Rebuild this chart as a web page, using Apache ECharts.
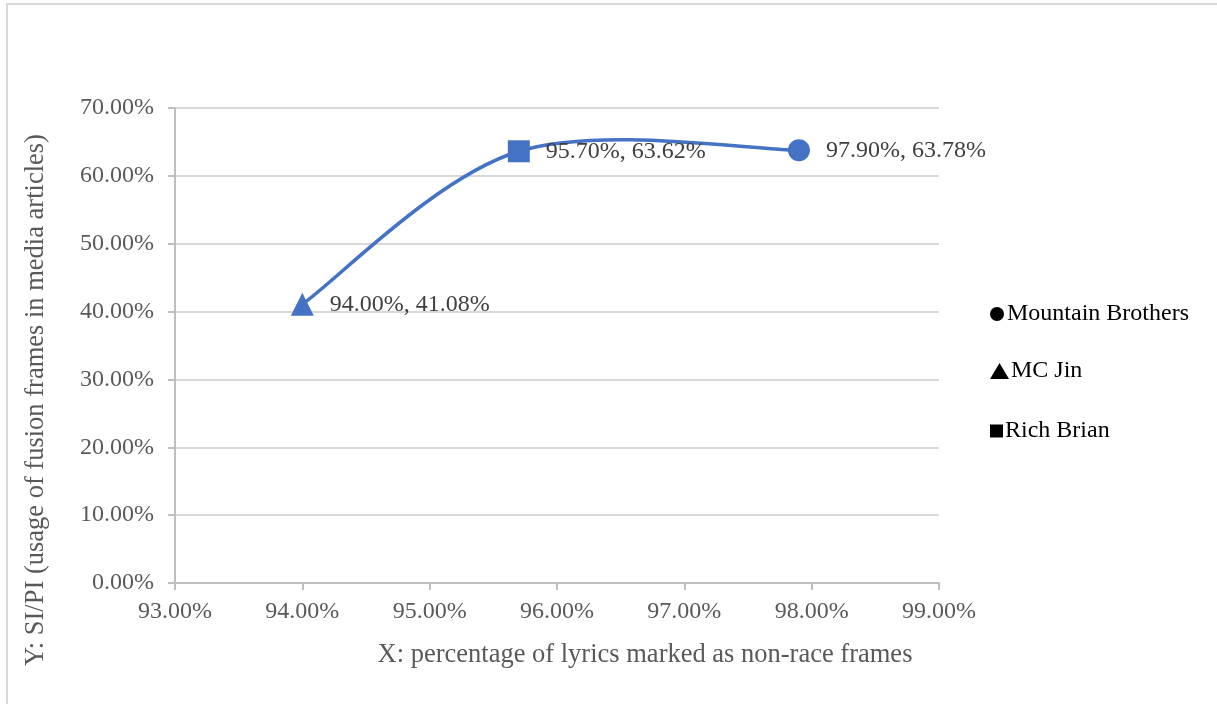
<!DOCTYPE html>
<html>
<head>
<meta charset="utf-8">
<script src="https://cdn.jsdelivr.net/npm/echarts@6/dist/echarts.min.js"></script>
<style>
  html, body { margin: 0; padding: 0; background: #fff; }
  #chart { width: 1217px; height: 704px; }
</style>
</head>
<body>
<div id="chart"></div>
<script>
// data (percent)
var artists = ['MC Jin', 'Rich Brian', 'Mountain Brothers'];
var xValues = [94.00, 95.70, 97.90];
var yValues = [41.08, 63.62, 63.78];
var markers = ['triangle', 'rect', 'circle'];

var fontFamily = '"Liberation Serif", "Times New Roman", serif';
var blue = '#4472C4';

var chart = echarts.init(document.getElementById('chart'));

var points = xValues.map(function (x, i) {
  return {
    name: artists[i],
    value: [x, yValues[i]],
    symbol: markers[i],
    symbolSize: markers[i] === 'triangle' ? 23 : 22
  };
});

// Excel-style smoothed line (catmull-rom through the data points)
function renderSmooth(params, api) {
  if (params.dataIndex !== 0) return null;
  var pts = xValues.map(function (x, i) { return api.coord([x, yValues[i]]); });
  var d = 'M' + pts[0][0] + ' ' + pts[0][1];
  for (var i = 0; i < pts.length - 1; i++) {
    var p0 = pts[i - 1] || pts[i];
    var p1 = pts[i];
    var p2 = pts[i + 1];
    var p3 = pts[i + 2] || pts[i + 1];
    var c1x = p1[0] + (p2[0] - p0[0]) / 6, c1y = p1[1] + (p2[1] - p0[1]) / 6;
    var c2x = p2[0] - (p3[0] - p1[0]) / 6, c2y = p2[1] - (p3[1] - p1[1]) / 6;
    d += ' C' + c1x + ' ' + c1y + ' ' + c2x + ' ' + c2y + ' ' + p2[0] + ' ' + p2[1];
  }
  return {
    type: 'path',
    shape: { pathData: d },
    style: { fill: 'none', stroke: blue, lineWidth: 3.5 }
  };
}

// one legend block per entry so each icon keeps its own size
function legendBlock(name, icon, top, w, h, pad) {
  return {
    orient: 'vertical',
    left: 990,
    top: top,
    padding: 0,
    itemWidth: w,
    itemHeight: h,
    selectedMode: false,
    data: [{ name: name, icon: icon }],
    textStyle: { fontFamily: fontFamily, fontSize: 24, color: '#000', padding: [0, 0, 0, pad] }
  };
}

function legendSeries(name, symbol) {
  return { name: name, type: 'scatter', data: [], symbol: symbol, itemStyle: { color: '#000', opacity: 1 } };
}

var option = {
  backgroundColor: '#fff',
  animation: false,
  grid: { left: 175, right: 278, top: 108, bottom: 121 },
  graphic: [
    {
      type: 'rect',
      shape: { x: 7, y: 4, width: 1300, height: 800 },
      style: { fill: 'none', stroke: '#d9d9d9', lineWidth: 2 },
      silent: true
    },
    {
      type: 'text',
      x: 36, y: 400,
      rotation: Math.PI / 2,
      style: {
        text: 'Y: SI/PI (usage of fusion frames in media articles)',
        font: '26.5px ' + fontFamily,
        fill: '#595959',
        align: 'center',
        verticalAlign: 'middle'
      }
    },
    {
      type: 'text',
      x: 645, y: 655,
      style: {
        text: 'X: percentage of lyrics marked as non-race frames',
        font: '26.5px ' + fontFamily,
        fill: '#595959',
        align: 'center',
        verticalAlign: 'middle'
      }
    }
  ],
  legend: [
    legendBlock('Mountain Brothers', 'circle', 302, 14, 14, -2),
    legendBlock('MC Jin', 'triangle', 359, 19, 16, -3),
    legendBlock('Rich Brian', 'rect', 419, 13, 13, -3)
  ],
  xAxis: {
    type: 'value',
    min: 93, max: 99, interval: 1,
    axisLine: { show: true, lineStyle: { color: '#bfbfbf', width: 2 } },
    axisTick: { show: true, length: 7, lineStyle: { color: '#bfbfbf', width: 2 } },
    splitLine: { show: false },
    axisLabel: {
      margin: 17,
      fontFamily: fontFamily, fontSize: 24, color: '#595959',
      formatter: function (v) { return v.toFixed(2) + '%'; }
    }
  },
  yAxis: {
    type: 'value',
    min: 0, max: 70, interval: 10,
    axisLine: { show: true, lineStyle: { color: '#bfbfbf', width: 2 } },
    axisTick: { show: true, length: 7, lineStyle: { color: '#bfbfbf', width: 2 } },
    splitLine: { show: true, lineStyle: { color: '#d9d9d9', width: 2 } },
    axisLabel: {
      margin: 21,
      fontFamily: fontFamily, fontSize: 24, color: '#595959',
      formatter: function (v) { return v.toFixed(2) + '%'; }
    }
  },
  series: [
    {
      name: 'curve',
      type: 'custom',
      renderItem: renderSmooth,
      data: points.map(function (p) { return p.value; }),
      encode: { x: 0, y: 1 },
      z: 2
    },
    {
      name: 'points',
      type: 'scatter',
      data: points,
      itemStyle: { color: blue, opacity: 1 },
      label: {
        show: true,
        position: 'right',
        distance: 16,
        fontFamily: fontFamily, fontSize: 24, color: '#404040',
        formatter: function (p) {
          return p.value[0].toFixed(2) + '%, ' + p.value[1].toFixed(2) + '%';
        }
      },
      z: 3
    },
    legendSeries('Mountain Brothers', 'circle'),
    legendSeries('MC Jin', 'triangle'),
    legendSeries('Rich Brian', 'rect')
  ]
};

chart.setOption(option);
</script>
</body>
</html>
